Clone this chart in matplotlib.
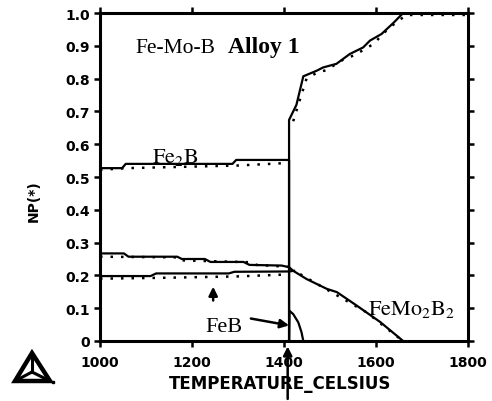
import matplotlib
matplotlib.use("Agg")
import matplotlib.pyplot as plt
from matplotlib.patches import Polygon

plt.rcParams['mathtext.fontset'] = 'stix'

# phase fractions vs temperature (solid = calculated, dotted = second set)
t_fe2b = [1000, 1048, 1056, 1288, 1296, 1411, 1411]
np_fe2b = [0.527, 0.527, 0.540, 0.540, 0.552, 0.552, 0.0]

t_liq = [1411, 1411, 1427, 1442, 1471, 1485, 1514, 1543, 1572, 1587, 1612, 1638, 1659, 1800]
np_liq = [0.0, 0.674, 0.720, 0.807, 0.824, 0.834, 0.845, 0.875, 0.895, 0.916, 0.936, 0.970, 1.0, 1.0]

t_upper = [1000, 1052, 1062, 1168, 1178, 1228, 1240, 1312, 1325, 1395, 1411,
           1420, 1449, 1493, 1515, 1558, 1609, 1659]
np_upper = [0.267, 0.267, 0.257, 0.257, 0.250, 0.250, 0.241, 0.241, 0.232, 0.230, 0.225,
            0.214, 0.189, 0.159, 0.149, 0.108, 0.058, 0.0]

t_lower = [1000, 1110, 1122, 1280, 1292, 1411, 1422]
np_lower = [0.198, 0.198, 0.206, 0.206, 0.211, 0.212, 0.214]

t_feb = [1411, 1412, 1420, 1431, 1438, 1442]
np_feb = [0.0, 0.092, 0.082, 0.057, 0.027, 0.0]

t_fe2b_dot = [1000, 1060, 1300, 1411]
np_fe2b_dot = [0.522, 0.527, 0.535, 0.543]

t_upper_dot = [1000, 1170, 1175, 1330, 1340, 1411]
np_upper_dot = [0.257, 0.255, 0.246, 0.240, 0.232, 0.226]

t_lower_dot = [1000, 1150, 1300, 1411]
np_lower_dot = [0.190, 0.193, 0.197, 0.203]

t_liq_dot = [1420, 1431, 1449, 1474, 1491, 1529, 1554, 1594, 1627, 1652, 1667, 1800]
np_liq_dot = [0.670, 0.720, 0.800, 0.820, 0.825, 0.858, 0.872, 0.905, 0.953, 0.980, 0.994, 0.994]

t_m2b2_dot = [1435, 1478, 1529, 1580, 1630, 1652]
np_m2b2_dot = [0.204, 0.169, 0.128, 0.087, 0.031, 0.007]

x_ticks = [1000, 1200, 1400, 1600, 1800]
x_ticklabels = ['1000', '1200', '1400', '1600', '1800']
y_ticks = [0, 0.1, 0.2, 0.3, 0.4, 0.5, 0.6, 0.7, 0.8, 0.9, 1.0]
y_ticklabels = ['0', '0.1', '0.2', '0.3', '0.4', '0.5', '0.6', '0.7', '0.8', '0.9', '1.0']

fig = plt.figure(figsize=(4.92, 4.02), dpi=100)
ax = fig.add_axes([100 / 492, 60 / 402, 368 / 492, 328 / 402])

lw = 1.6
for t, v in [(t_fe2b, np_fe2b), (t_liq, np_liq), (t_upper, np_upper),
             (t_lower, np_lower), (t_feb, np_feb)]:
    ax.plot(t, v, color='k', linewidth=lw, solid_joinstyle='round')

dots = (0, (1, 3.2))
for t, v in [(t_fe2b_dot, np_fe2b_dot), (t_upper_dot, np_upper_dot),
             (t_lower_dot, np_lower_dot), (t_liq_dot, np_liq_dot),
             (t_m2b2_dot, np_m2b2_dot)]:
    ax.plot(t, v, color='k', linewidth=1.8, linestyle=dots)

ax.set_xlim(1000, 1800)
ax.set_ylim(0, 1)
ax.set_xticks(x_ticks)
ax.set_xticklabels(x_ticklabels)
ax.set_yticks(y_ticks)
ax.set_yticklabels(y_ticklabels)
for s in ax.spines.values():
    s.set_linewidth(2.2)
ax.tick_params(direction='out', length=4, width=1.8, top=True, right=True,
               labelsize=10, pad=3)
ax.tick_params(axis='x', pad=6)
for lab in ax.get_xticklabels() + ax.get_yticklabels():
    lab.set_fontweight('bold')

ax.set_xlabel('TEMPERATURE_CELSIUS', fontsize=12, fontweight='bold')
ax.xaxis.set_label_coords(0.49, -0.1)
ax.set_ylabel('NP(*)', fontsize=10, fontweight='bold')
ax.yaxis.set_label_coords(-0.16, 0.43)

serif = 'Liberation Serif'
ax.text(1076, 0.881, 'Fe-Mo-B', fontsize=15.5, family=serif, va='baseline')
ax.text(1279, 0.881, 'Alloy 1', fontsize=17, family=serif, fontweight='bold', va='baseline')
ax.text(1113, 0.546, r'$\mathrm{Fe_2B}$', fontsize=16, va='baseline')
ax.text(1228, 0.030, 'FeB', fontsize=16, family=serif, va='baseline')
ax.text(1583, 0.082, r'$\mathrm{FeMo_2B_2}$', fontsize=16, va='baseline')

arrow = dict(arrowstyle='-|>', color='k', lw=1.8, mutation_scale=13)
ax.annotate('', xy=(1417, 0.046), xytext=(1322, 0.070), arrowprops=arrow)
ax.annotate('', xy=(1246, 0.174), xytext=(1246, 0.115), arrowprops=arrow)
ax.annotate('', xy=(1408, -0.008), xycoords=('data', 'axes fraction'),
            xytext=(1408, -0.185), textcoords=('data', 'axes fraction'),
            arrowprops=arrow, annotation_clip=False)

# Thermo-Calc logo in the lower left corner
logo = fig.add_axes([0, 0, 1, 1])
logo.set_xlim(0, 492)
logo.set_ylim(402, 0)
logo.axis('off')
apex, bl, br, mid = (32, 354), (15, 382), (50, 382), (32, 373)
logo.add_patch(Polygon([apex, bl, br], closed=True, fill=False, edgecolor='k',
                       linewidth=3.2, joinstyle='miter'))
for p in (apex, bl, br):
    logo.plot([mid[0], p[0]], [mid[1], p[1]], color='k', linewidth=2.2)
logo.plot([53], [383], 's', color='k', markersize=2)

fig.savefig('out.png', dpi=100)
